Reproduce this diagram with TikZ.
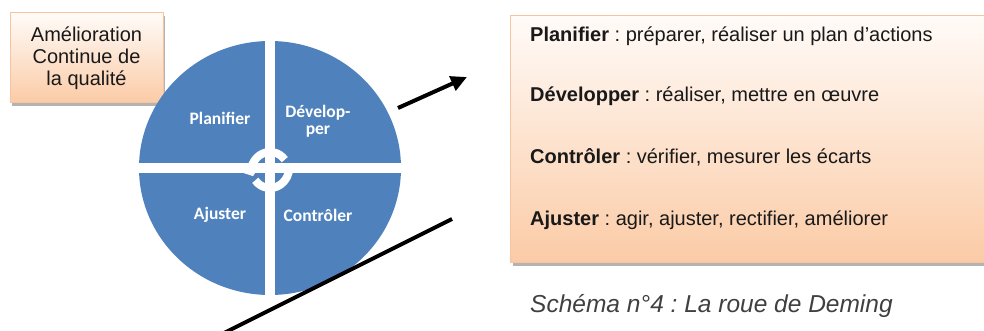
\documentclass[tikz,border=0pt]{standalone}
\usepackage{fontspec}
\setmainfont{Liberation Sans}
\newfontfamily\labelfont{Carlito}
\usetikzlibrary{arrows.meta,shadows}
\definecolor{wheelblue}{RGB}{79,129,189}
\definecolor{peachtop}{RGB}{255,251,248}
\definecolor{peachbot}{RGB}{251,203,166}
\definecolor{peachline}{RGB}{246,196,160}
\definecolor{captiongray}{RGB}{64,64,64}
\frenchspacing
\begin{document}
\begin{tikzpicture}[x=1pt,y=-1pt,
  peachbox/.style={draw=peachline, line width=1pt, top color=peachtop,
    bottom color=peachbot, inner sep=0pt,
    drop shadow={shadow xshift=2pt, shadow yshift=-3pt, fill=black!50, opacity=0.6}},
  quadlabel/.style={text=white, font=\labelfont\bfseries\fontsize{17.5}{17}\selectfont,
    align=center, inner sep=0pt},
  boxtext/.style={anchor=base west, text=black!90, font=\fontsize{20}{22}\selectfont,
    inner sep=0pt},
  bigarrow/.style={line width=4pt, -{Triangle[length=16pt,width=15pt]}},
  cyclearc/.style={white, line width=8pt, -{Triangle[length=6pt,width=15pt]}},
]
\useasboundingbox (0,0) rectangle (984,331);

% title box
\node[peachbox, minimum width=153pt, minimum height=90pt, align=center,
  font=\fontsize{20}{22}\selectfont, text=black!90] (title) at (86.5,58)
  {Amélioration\\Continue de\\la qualité};

% the wheel and its four quadrants
\fill[wheelblue] (270,168) ellipse [x radius=131, y radius=127];
\fill[white] (265,30) rectangle (275,305);
\fill[white] (130,163) rectangle (410,173);

% cycle symbol in the centre
\coordinate (hub) at (270,170);
\draw[cyclearc] (hub) ++(-35:18) arc[start angle=-35, end angle=-200, radius=18];
\draw[cyclearc] (hub) ++(-215:18) arc[start angle=-215, end angle=-380, radius=18];

% quadrant labels
\node[quadlabel] (plan) at (220,118) {Planifier};
\node[quadlabel] (dev) at (318,121) {Dévelop-\\per};
\node[quadlabel] (adj) at (220,215) {Ajuster};
\node[quadlabel] (ctrl) at (318,215) {Contrôler};

% pointer lines
\coordinate (a1s) at (398,108);
\coordinate (a1e) at (467,77);
\draw[bigarrow] (a1s) -- (a1e);
\coordinate (l2s) at (224,333);
\coordinate (l2e) at (452,219);
\draw[line width=4pt] (l2s) -- (l2e);

% description box
\node[peachbox, minimum width=476pt, minimum height=247pt, anchor=north west]
  (desc) at (510,15) {};
\node[boxtext] (t1) at (530,42) {\textbf{Planifier} : préparer, réaliser un plan d'actions};
\node[boxtext] (t2) at (530,102) {\textbf{Développer} : réaliser, mettre en œuvre};
\node[boxtext] (t3) at (530,164) {\textbf{Contrôler} : vérifier, mesurer les écarts};
\node[boxtext] (t4) at (530,225) {\textbf{Ajuster} : agir, ajuster, rectifier, améliorer};

% caption
\node[anchor=base west, font=\itshape\fontsize{24.5}{25}\selectfont, text=captiongray,
  inner sep=0pt] (cap) at (530,312) {Schéma n°4 : La roue de Deming};
\end{tikzpicture}
\end{document}
